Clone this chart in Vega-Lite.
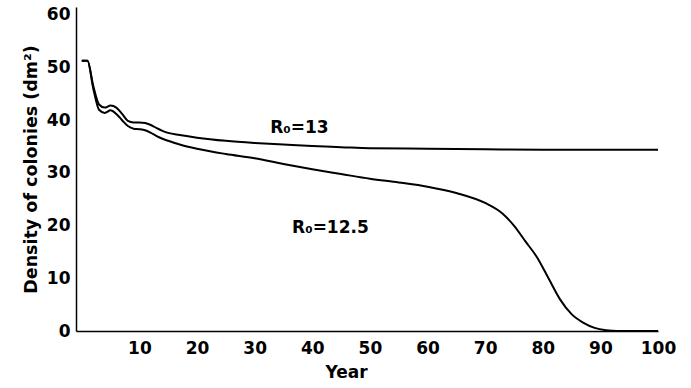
{
  "$schema": "https://vega.github.io/schema/vega-lite/v6.json",
  "width": 582,
  "height": 324,
  "autosize": {"type": "none"},
  "padding": {"left": 76, "top": 7, "right": 33, "bottom": 57},
  "background": "white",
  "config": {
    "view": {"stroke": null},
    "font": "DejaVu Sans"
  },
  "datasets": {
    "curves": [
      {"year": 0, "value": 51.3, "series": "R0=13"},
      {"year": 1, "value": 51.3, "series": "R0=13"},
      {"year": 2, "value": 46.5, "series": "R0=13"},
      {"year": 3, "value": 43.0, "series": "R0=13"},
      {"year": 4, "value": 42.4, "series": "R0=13"},
      {"year": 5, "value": 42.8, "series": "R0=13"},
      {"year": 6, "value": 42.4, "series": "R0=13"},
      {"year": 7, "value": 41.2, "series": "R0=13"},
      {"year": 8, "value": 39.9, "series": "R0=13"},
      {"year": 9, "value": 39.6, "series": "R0=13"},
      {"year": 10, "value": 39.6, "series": "R0=13"},
      {"year": 11, "value": 39.5, "series": "R0=13"},
      {"year": 12, "value": 39.1, "series": "R0=13"},
      {"year": 13, "value": 38.5, "series": "R0=13"},
      {"year": 14, "value": 38.0, "series": "R0=13"},
      {"year": 15, "value": 37.6, "series": "R0=13"},
      {"year": 17, "value": 37.2, "series": "R0=13"},
      {"year": 20, "value": 36.7, "series": "R0=13"},
      {"year": 25, "value": 36.1, "series": "R0=13"},
      {"year": 30, "value": 35.7, "series": "R0=13"},
      {"year": 35, "value": 35.4, "series": "R0=13"},
      {"year": 40, "value": 35.1, "series": "R0=13"},
      {"year": 45, "value": 34.9, "series": "R0=13"},
      {"year": 50, "value": 34.7, "series": "R0=13"},
      {"year": 60, "value": 34.6, "series": "R0=13"},
      {"year": 70, "value": 34.5, "series": "R0=13"},
      {"year": 80, "value": 34.4, "series": "R0=13"},
      {"year": 90, "value": 34.4, "series": "R0=13"},
      {"year": 100, "value": 34.4, "series": "R0=13"},
      {"year": 0, "value": 51.3, "series": "R0=12.5"},
      {"year": 1, "value": 51.3, "series": "R0=12.5"},
      {"year": 2, "value": 46.0, "series": "R0=12.5"},
      {"year": 3, "value": 42.0, "series": "R0=12.5"},
      {"year": 4, "value": 41.4, "series": "R0=12.5"},
      {"year": 5, "value": 41.9, "series": "R0=12.5"},
      {"year": 6, "value": 41.2, "series": "R0=12.5"},
      {"year": 7, "value": 40.0, "series": "R0=12.5"},
      {"year": 8, "value": 38.9, "series": "R0=12.5"},
      {"year": 9, "value": 38.4, "series": "R0=12.5"},
      {"year": 10, "value": 38.3, "series": "R0=12.5"},
      {"year": 11, "value": 38.1, "series": "R0=12.5"},
      {"year": 12, "value": 37.6, "series": "R0=12.5"},
      {"year": 13, "value": 37.0, "series": "R0=12.5"},
      {"year": 14, "value": 36.5, "series": "R0=12.5"},
      {"year": 15, "value": 36.1, "series": "R0=12.5"},
      {"year": 17, "value": 35.4, "series": "R0=12.5"},
      {"year": 20, "value": 34.6, "series": "R0=12.5"},
      {"year": 25, "value": 33.6, "series": "R0=12.5"},
      {"year": 30, "value": 32.8, "series": "R0=12.5"},
      {"year": 35, "value": 31.7, "series": "R0=12.5"},
      {"year": 40, "value": 30.7, "series": "R0=12.5"},
      {"year": 45, "value": 29.8, "series": "R0=12.5"},
      {"year": 50, "value": 28.9, "series": "R0=12.5"},
      {"year": 55, "value": 28.2, "series": "R0=12.5"},
      {"year": 60, "value": 27.4, "series": "R0=12.5"},
      {"year": 65, "value": 26.2, "series": "R0=12.5"},
      {"year": 70, "value": 24.3, "series": "R0=12.5"},
      {"year": 73, "value": 22.3, "series": "R0=12.5"},
      {"year": 75, "value": 20.0, "series": "R0=12.5"},
      {"year": 77, "value": 17.0, "series": "R0=12.5"},
      {"year": 79, "value": 14.0, "series": "R0=12.5"},
      {"year": 81, "value": 10.0, "series": "R0=12.5"},
      {"year": 83, "value": 6.0, "series": "R0=12.5"},
      {"year": 85, "value": 3.2, "series": "R0=12.5"},
      {"year": 87, "value": 1.6, "series": "R0=12.5"},
      {"year": 89, "value": 0.6, "series": "R0=12.5"},
      {"year": 91, "value": 0.15, "series": "R0=12.5"},
      {"year": 93, "value": 0.0, "series": "R0=12.5"},
      {"year": 100, "value": 0.0, "series": "R0=12.5"}
    ],
    "labels": [
      {"year": 32.7, "value": 37.6, "label": "R₀=13"},
      {"year": 36.5, "value": 18.6, "label": "R₀=12.5"}
    ]
  },
  "layer": [
    {
      "data": {"name": "curves"},
      "mark": {"type": "line", "color": "black", "strokeWidth": 2, "interpolate": "monotone"},
      "encoding": {
        "x": {
          "field": "year", "type": "quantitative",
          "scale": {"domain": [-1, 100], "nice": false, "zero": false},
          "axis": {
            "title": "Year", "values": [10, 20, 30, 40, 50, 60, 70, 80, 90, 100],
            "grid": false, "ticks": false, "domainColor": "black", "domainWidth": 1.5,
            "labelFontSize": 17, "labelFontWeight": "bold", "labelColor": "black", "labelPadding": 9,
            "labelFlush": false, "labelOverlap": false,
            "titleFontSize": 17, "titleFontWeight": "bold", "titleColor": "black", "titlePadding": 8,
            "titleX": 270
          }
        },
        "y": {
          "field": "value", "type": "quantitative",
          "scale": {"domain": [0, 61.5], "nice": false},
          "axis": {
            "title": "Density of colonies (dm²)", "values": [0, 10, 20, 30, 40, 50, 60],
            "grid": false, "ticks": false, "domainColor": "black", "domainWidth": 1.5,
            "labelFontSize": 17, "labelFontWeight": "bold", "labelColor": "black", "labelPadding": 6,
            "labelFlush": false, "labelOverlap": false,
            "titleFontSize": 17.5, "titleFontWeight": "bold", "titleColor": "black", "titlePadding": 6
          }
        },
        "detail": {"field": "series"}
      }
    },
    {
      "data": {"name": "labels"},
      "mark": {"type": "text", "align": "left", "baseline": "alphabetic", "fontSize": 17, "fontWeight": "bold", "color": "black"},
      "encoding": {
        "x": {"field": "year", "type": "quantitative"},
        "y": {"field": "value", "type": "quantitative"},
        "text": {"field": "label"}
      }
    }
  ]
}
